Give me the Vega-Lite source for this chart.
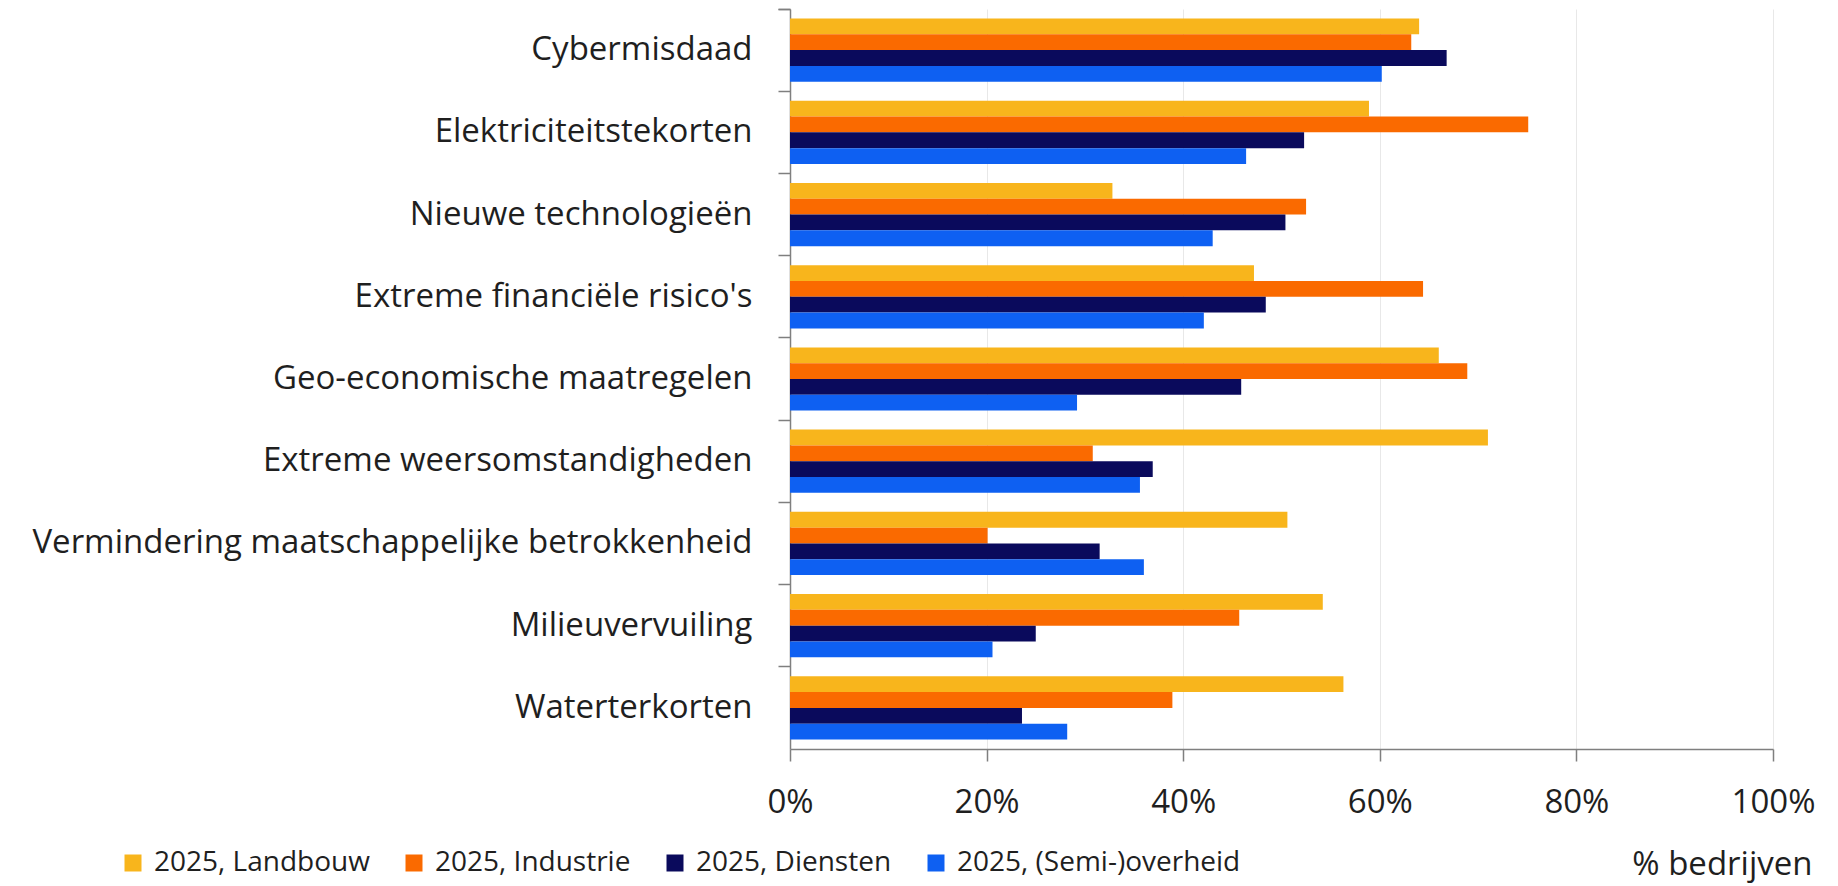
{
  "$schema": "https://vega.github.io/schema/vega-lite/v6.json",
  "width": 983,
  "height": 740,
  "autosize": {"type": "none"},
  "padding": {"left": 790, "top": 9, "right": 65, "bottom": 137},
  "background": "white",
  "data": {
    "values": [
      {"risico": "Cybermisdaad", "sector": "2025, Landbouw", "waarde": 0.640},
      {"risico": "Cybermisdaad", "sector": "2025, Industrie", "waarde": 0.632},
      {"risico": "Cybermisdaad", "sector": "2025, Diensten", "waarde": 0.668},
      {"risico": "Cybermisdaad", "sector": "2025, (Semi-)overheid", "waarde": 0.602},
      {"risico": "Elektriciteitstekorten", "sector": "2025, Landbouw", "waarde": 0.589},
      {"risico": "Elektriciteitstekorten", "sector": "2025, Industrie", "waarde": 0.751},
      {"risico": "Elektriciteitstekorten", "sector": "2025, Diensten", "waarde": 0.523},
      {"risico": "Elektriciteitstekorten", "sector": "2025, (Semi-)overheid", "waarde": 0.464},
      {"risico": "Nieuwe technologieën", "sector": "2025, Landbouw", "waarde": 0.328},
      {"risico": "Nieuwe technologieën", "sector": "2025, Industrie", "waarde": 0.525},
      {"risico": "Nieuwe technologieën", "sector": "2025, Diensten", "waarde": 0.504},
      {"risico": "Nieuwe technologieën", "sector": "2025, (Semi-)overheid", "waarde": 0.430},
      {"risico": "Extreme financiële risico's ", "sector": "2025, Landbouw", "waarde": 0.472},
      {"risico": "Extreme financiële risico's ", "sector": "2025, Industrie", "waarde": 0.644},
      {"risico": "Extreme financiële risico's ", "sector": "2025, Diensten", "waarde": 0.484},
      {"risico": "Extreme financiële risico's ", "sector": "2025, (Semi-)overheid", "waarde": 0.421},
      {"risico": "Geo-economische maatregelen", "sector": "2025, Landbouw", "waarde": 0.660},
      {"risico": "Geo-economische maatregelen", "sector": "2025, Industrie", "waarde": 0.689},
      {"risico": "Geo-economische maatregelen", "sector": "2025, Diensten", "waarde": 0.459},
      {"risico": "Geo-economische maatregelen", "sector": "2025, (Semi-)overheid", "waarde": 0.292},
      {"risico": "Extreme weersomstandigheden", "sector": "2025, Landbouw", "waarde": 0.710},
      {"risico": "Extreme weersomstandigheden", "sector": "2025, Industrie", "waarde": 0.308},
      {"risico": "Extreme weersomstandigheden", "sector": "2025, Diensten", "waarde": 0.369},
      {"risico": "Extreme weersomstandigheden", "sector": "2025, (Semi-)overheid", "waarde": 0.356},
      {"risico": "Vermindering maatschappelijke betrokkenheid", "sector": "2025, Landbouw", "waarde": 0.506},
      {"risico": "Vermindering maatschappelijke betrokkenheid", "sector": "2025, Industrie", "waarde": 0.201},
      {"risico": "Vermindering maatschappelijke betrokkenheid", "sector": "2025, Diensten", "waarde": 0.315},
      {"risico": "Vermindering maatschappelijke betrokkenheid", "sector": "2025, (Semi-)overheid", "waarde": 0.360},
      {"risico": "Milieuvervuiling", "sector": "2025, Landbouw", "waarde": 0.542},
      {"risico": "Milieuvervuiling", "sector": "2025, Industrie", "waarde": 0.457},
      {"risico": "Milieuvervuiling", "sector": "2025, Diensten", "waarde": 0.250},
      {"risico": "Milieuvervuiling", "sector": "2025, (Semi-)overheid", "waarde": 0.206},
      {"risico": "Waterterkorten", "sector": "2025, Landbouw", "waarde": 0.563},
      {"risico": "Waterterkorten", "sector": "2025, Industrie", "waarde": 0.389},
      {"risico": "Waterterkorten", "sector": "2025, Diensten", "waarde": 0.236},
      {"risico": "Waterterkorten", "sector": "2025, (Semi-)overheid", "waarde": 0.282}
    ]
  },
  "mark": {"type": "bar"},
  "encoding": {
    "y": {
      "field": "risico",
      "type": "nominal",
      "sort": null,
      "scale": {"paddingInner": 0, "paddingOuter": 0},
      "axis": {
        "title": null,
        "bandPosition": 0,
        "tickExtra": true,
        "tickSize": 12,
        "tickColor": "#7f7f7f",
        "tickWidth": 1.5,
        "domainColor": "#7f7f7f",
        "domainWidth": 1.5,
        "labelPadding": 26,
        "labelFontSize": 33,
        "labelFont": "Open Sans",
        "labelColor": "#1f1f1f",
        "labelLimit": 900,
        "grid": false
      }
    },
    "yOffset": {
      "field": "sector",
      "type": "nominal",
      "sort": ["2025, Landbouw", "2025, Industrie", "2025, Diensten", "2025, (Semi-)overheid"],
      "scale": {"paddingInner": 0, "paddingOuter": 0.6}
    },
    "x": {
      "field": "waarde",
      "type": "quantitative",
      "scale": {"domain": [0, 1], "nice": false},
      "axis": {
        "title": "% bedrijven",
        "format": ".0%",
        "values": [0, 0.2, 0.4, 0.6, 0.8, 1],
        "tickSize": 12,
        "tickColor": "#7f7f7f",
        "tickWidth": 1.5,
        "domainColor": "#7f7f7f",
        "domainWidth": 1.5,
        "labelPadding": 25,
        "labelFontSize": 33,
        "labelFont": "Open Sans",
        "labelColor": "#1f1f1f",
        "labelFlush": false,
        "grid": true,
        "gridColor": "#e8e8e8",
        "gridWidth": 1,
        "titleFont": "Open Sans",
        "titleFontSize": 33,
        "titleFontWeight": "normal",
        "titleColor": "#1f1f1f",
        "titleAlign": "right",
        "titleBaseline": "alphabetic",
        "titleAnchor": "end",
        "titleX": 1022,
        "titleY": 125
      }
    },
    "color": {
      "field": "sector",
      "type": "nominal",
      "sort": ["2025, Landbouw", "2025, Industrie", "2025, Diensten", "2025, (Semi-)overheid"],
      "scale": {
        "domain": ["2025, Landbouw", "2025, Industrie", "2025, Diensten", "2025, (Semi-)overheid"],
        "range": ["#F8B51C", "#FA6A00", "#0A0A5C", "#0E60F2"]
      },
      "legend": {
        "title": null,
        "orient": "none",
        "direction": "horizontal",
        "legendX": -671,
        "legendY": 840,
        "symbolType": "square",
        "symbolSize": 289,
        "symbolStrokeWidth": 0,
        "labelFont": "Open Sans",
        "labelFontSize": 28,
        "labelColor": "#1f1f1f",
        "labelOffset": 7,
        "labelLimit": 600,
        "columnPadding": 30,
        "padding": 0
      }
    }
  },
  "config": {
    "view": {"stroke": null},
    "font": "Open Sans"
  }
}
